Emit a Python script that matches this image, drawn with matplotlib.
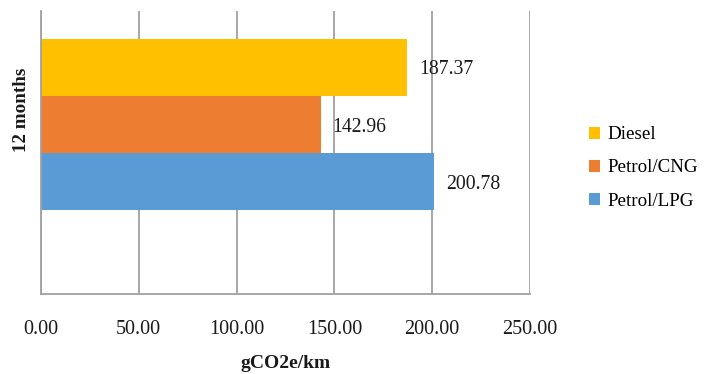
import matplotlib
matplotlib.use("Agg")
import matplotlib.pyplot as plt
from matplotlib.patches import Patch

category = "12 months"
series = ["Diesel", "Petrol/CNG", "Petrol/LPG"]
values = [187.37, 142.96, 200.78]
colors = ["#FFC000", "#ED7D31", "#5B9BD5"]
xticks = [0, 50, 100, 150, 200, 250]

plt.rcParams['font.family'] = ['Liberation Serif', 'DejaVu Serif']

W, H = 706, 374
fig = plt.figure(figsize=(W/100, H/100), dpi=100)
L, R, T, B = 41, 530, 11, 294
ax = fig.add_axes([L/W, 1 - B/H, (R-L)/W, (B-T)/H])

ypos = [1, 0, -1]
for y, v, c, s in zip(ypos, values, colors, series):
    ax.barh(y, v, height=1.0, color=c, label=s, zorder=3)
    ax.annotate(f"{v:.2f}", xy=(v, y), xytext=(12, 0), textcoords='offset pixels',
                ha='left', va='center_baseline', fontsize=14.2, color='#1a1a1a', zorder=5)

ax.set_xlim(0, 250)
ax.set_ylim(-2.97, 1.99)
ax.set_xticks(xticks)
ax.set_xticklabels([f"{t:.2f}" for t in xticks], fontsize=14.5)
ax.tick_params(axis='x', length=0, pad=19, colors='#1a1a1a')
ax.set_yticks([])
ax.grid(axis='x', color='#a0a0a0', linewidth=1.3, zorder=0)
for sp in ['top', 'right']:
    ax.spines[sp].set_visible(False)
for sp in ['left', 'bottom']:
    ax.spines[sp].set_color('#a0a0a0')
    ax.spines[sp].set_linewidth(1.3)
    ax.spines[sp].set_zorder(4)

fig.text(285.5/W, 1 - 364/H, "gCO2e/km", ha='center', va='center',
         fontsize=14, fontweight='bold', color='#1a1a1a')
fig.text(21/W, 1 - 110/H, category, ha='center', va='center', rotation=90,
         fontsize=13.7, fontweight='bold', color='#1a1a1a')

handles = [Patch(facecolor=c, edgecolor='none', label=s) for c, s in zip(colors, series)]
fig.legend(handles=handles, loc='center left', bbox_to_anchor=(579/W, 1 - 168/H),
           frameon=False, fontsize=13.7, handlelength=0.6, handleheight=0.6,
           handletextpad=0.4, labelspacing=0.85, borderpad=0)

fig.savefig("out.png", dpi=100)
